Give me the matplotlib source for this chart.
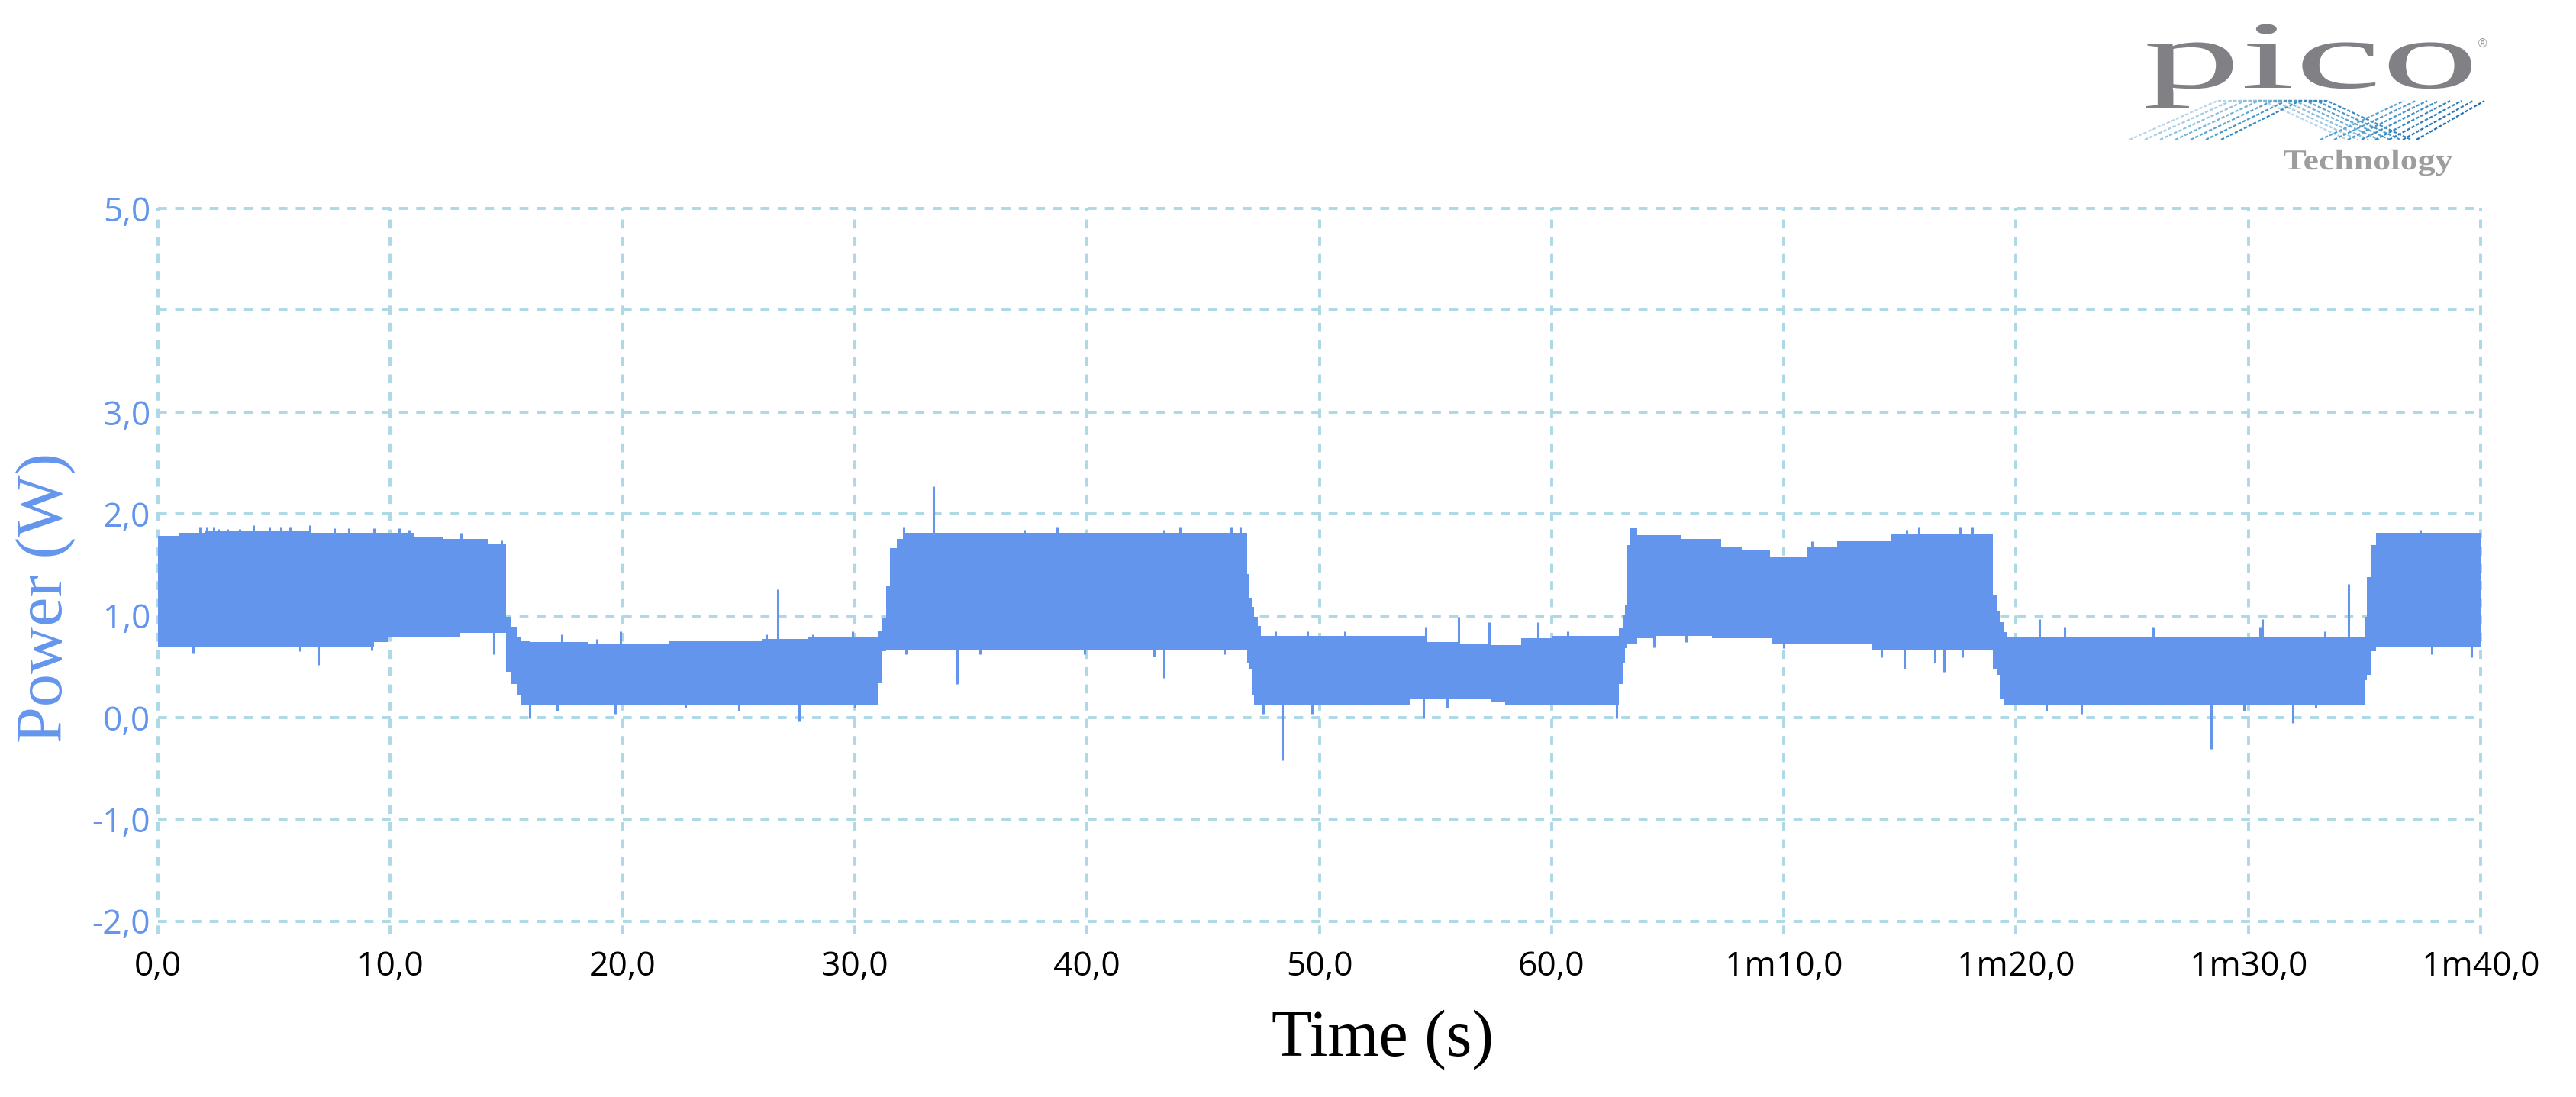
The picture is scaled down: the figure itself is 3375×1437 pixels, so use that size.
import matplotlib.pyplot as plt
import numpy as np
from matplotlib.textpath import TextPath
from matplotlib.patches import PathPatch
from matplotlib.font_manager import FontProperties
from matplotlib.transforms import Affine2D
from matplotlib.lines import Line2D

# band envelope of the power trace (step knots, seconds / watts)
time_s = [0.0, 0.9, 2.0, 6.5, 9.3, 9.9, 11.0, 12.3, 13.0, 14.2,
          15.0, 15.2, 15.45, 15.65, 16.0, 18.5, 20.0, 22.0, 26.0, 28.0,
          31.0, 31.2, 31.35, 31.5, 31.8, 32.1, 46.9, 47.0, 47.1, 47.2,
          47.35, 47.5, 53.9, 54.6, 56.0, 57.4, 58.0, 58.7, 60.0, 62.9,
          63.05, 63.15, 63.25, 63.4, 63.7, 64.5, 65.6, 66.9, 67.3, 68.2,
          69.4, 69.5, 71.0, 72.3, 73.8, 74.6, 79.0, 79.15, 79.3, 79.45,
          79.6, 95.0, 95.1, 95.3, 95.5, 100.0]
upper_w = [1.78, 1.81, 1.83, 1.81, 1.81, 1.81, 1.77, 1.75, 1.75, 1.70,
           0.99, 0.89, 0.79, 0.75, 0.74, 0.73, 0.72, 0.75, 0.77, 0.79,
           0.85, 0.98, 1.29, 1.66, 1.75, 1.81, 1.41, 1.18, 1.09, 0.99,
           0.90, 0.80, 0.80, 0.74, 0.73, 0.71, 0.71, 0.78, 0.80, 0.88,
           1.01, 1.11, 1.69, 1.86, 1.79, 1.79, 1.75, 1.75, 1.68, 1.64,
           1.58, 1.58, 1.67, 1.73, 1.73, 1.80, 1.20, 1.05, 0.94, 0.84,
           0.79, 0.99, 1.38, 1.69, 1.81, 1.81]
lower_w = [0.70, 0.70, 0.70, 0.70, 0.74, 0.79, 0.79, 0.79, 0.83, 0.83,
           0.45, 0.33, 0.22, 0.12, 0.13, 0.13, 0.13, 0.13, 0.13, 0.13,
           0.34, 0.65, 0.66, 0.66, 0.66, 0.67, 0.54, 0.48, 0.22, 0.13,
           0.13, 0.13, 0.19, 0.19, 0.19, 0.15, 0.13, 0.13, 0.13, 0.33,
           0.54, 0.68, 0.73, 0.73, 0.78, 0.80, 0.80, 0.78, 0.78, 0.78,
           0.78, 0.72, 0.72, 0.72, 0.67, 0.67, 0.48, 0.42, 0.19, 0.13,
           0.13, 0.37, 0.42, 0.65, 0.70, 0.70]

# upward glitches / teeth on the trace
peak_t = [1.8, 2.1, 2.4, 2.6, 3.0, 3.5, 4.1, 4.8, 5.3, 5.7, 6.55, 7.6, 8.2,
          9.3, 10.4, 10.8, 13.05, 14.8, 17.4, 18.9, 19.9, 26.2, 26.7, 28.2,
          29.9, 32.1, 33.4, 37.3, 38.7, 43.3, 44.0, 46.2, 46.6, 48.1, 49.5,
          51.1, 54.6, 56.0, 57.3, 59.4, 60.7, 71.2, 75.3, 75.8, 77.6, 78.1,
          81.0, 82.1, 85.9, 90.5, 90.6, 93.3, 94.3, 97.4]
peak_w = [1.87, 1.87, 1.87, 1.85, 1.85, 1.85, 1.89, 1.87, 1.87, 1.87, 1.89,
          1.86, 1.86, 1.86, 1.86, 1.84, 1.81, 1.74, 0.82, 0.77, 0.85, 0.82,
          1.26, 0.82, 0.85, 1.87, 2.27, 1.84, 1.87, 1.84, 1.87, 1.87, 1.87,
          0.85, 0.85, 0.85, 0.89, 0.99, 0.94, 0.94, 0.85, 1.73, 1.84, 1.87,
          1.87, 1.87, 0.97, 0.89, 0.89, 0.89, 0.97, 0.85, 1.31, 1.84]

# downward glitches / teeth
dip_t = [1.5, 6.1, 6.9, 9.2, 14.45, 16.0, 17.2, 19.7, 22.7, 25.0, 27.6,
         30.0, 32.2, 34.4, 35.4, 39.9, 42.9, 43.3, 45.9, 47.6, 48.4, 49.7,
         54.5, 55.5, 62.8, 64.4, 65.8, 70.0, 74.2, 75.2, 76.5, 76.9, 77.7,
         81.3, 82.8, 88.4, 89.8, 91.9, 92.9, 97.9, 99.6]
dip_w = [0.63, 0.65, 0.52, 0.66, 0.62, -0.01, 0.07, 0.04, 0.10, 0.07, -0.04,
         0.10, 0.62, 0.33, 0.62, 0.62, 0.60, 0.39, 0.62, 0.04, -0.42, 0.04,
         -0.01, 0.10, -0.01, 0.69, 0.74, 0.68, 0.59, 0.48, 0.54, 0.45, 0.59,
         0.07, 0.04, -0.31, 0.07, -0.05, 0.10, 0.62, 0.59]

x_ticks = [0, 10, 20, 30, 40, 50, 60, 70, 80, 90, 100]
x_labels = ['0,0', '10,0', '20,0', '30,0', '40,0', '50,0', '60,0',
            '1m10,0', '1m20,0', '1m30,0', '1m40,0']
y_ticks = [-2, -1, 0, 1, 2, 3, 4, 5]
y_labels = ['-2,0', '-1,0', '0,0', '1,0', '2,0', '3,0', '', '5,0']

trace_col = '#6495ED'
grid_col = '#ADD8E6'

plt.rcParams['font.family'] = ['Open Sans', 'DejaVu Sans']

W, H, dpi = 3375, 1437, 100
fig = plt.figure(figsize=(W / dpi, H / dpi), dpi=dpi)
ax = fig.add_axes([207 / W, (H - 1224) / H, (3250 - 207) / W, (1224 - 273) / H])

t = np.array(time_s)
up = np.array(upper_w)
lo = np.array(lower_w)
ax.fill_between(t, lo, up, step='post', color=trace_col, lw=0, zorder=3)


def band_mid(ts):
    idx = np.searchsorted(t, ts, side='right') - 1
    return (up[idx] + lo[idx]) / 2


ax.vlines(peak_t, band_mid(np.array(peak_t)), peak_w, color=trace_col, lw=2.2, zorder=3)
ax.vlines(dip_t, band_mid(np.array(dip_t)), dip_w, color=trace_col, lw=2.2, zorder=3)

ax.set_xlim(0, 100)
ax.set_ylim(-2.13, 5.0)
ax.set_xticks(x_ticks)
ax.set_xticklabels(x_labels, fontsize=32, color='black')
ax.set_yticks(y_ticks)
ax.set_yticklabels(y_labels, fontsize=32, color=trace_col)
ax.tick_params(axis='x', length=0, pad=15)
ax.tick_params(axis='y', length=0, pad=7)
for s in ax.spines.values():
    s.set_visible(False)
ax.set_axisbelow(True)
ax.grid(True, color=grid_col, lw=2.8, ls=(0, (3, 2.8)))
for gl in ax.get_xgridlines() + ax.get_ygridlines():
    gl.set_clip_on(False)

fig.text(1812 / W, 1 - 1382 / H, 'Time (s)', fontsize=62, family='Liberation Serif',
         ha='center', va='baseline', color='black')
fig.text(60 / W, 1 - 783 / H, 'Power (W)', fontsize=62, family='Liberation Serif',
         rotation=90, ha='center', va='center', color=trace_col)

# pico logo (stretched serif text + wave lines)
px = Affine2D().scale(1 / dpi) + fig.dpi_scale_trans
tp = TextPath((0, 0), 'pico', size=1, prop=FontProperties(family='Liberation Serif'))
bb = tp.get_extents()
tr = Affine2D().translate(-bb.x0, 0).scale(426 / bb.width, 58 / 0.459).translate(2812, H - 115) + px
fig.add_artist(PathPatch(tp, transform=tr, color='#808085', lw=0))
tp2 = TextPath((0, 0), 'Technology', size=1,
               prop=FontProperties(family='Liberation Serif', weight='bold'))
bb2 = tp2.get_extents()
tr2 = Affine2D().translate(-bb2.x0, 0).scale(221 / bb2.width, 25 / 0.662).translate(2992, H - 222) + px
fig.add_artist(PathPatch(tp2, transform=tr2, color='#9d9d9d', lw=0))
fig.text(3245 / W, 1 - 62 / H, '®', fontsize=11, color='#a0a0a0', family='DejaVu Sans')

for i in range(7):
    xs = [2790 + i * 20, 2905 + i * 18, 2965 + i * 14, 3075 + i * 14]
    ys = [H - 183, H - 132, H - 132, H - 183]
    fig.add_artist(Line2D(xs, ys, transform=px, color=plt.cm.Blues(0.3 + i * 0.06),
                          lw=1.6, ls=(0, (2, 1))))
for i in range(8):
    xs = [3040 + i * 18, 3150 + i * 15]
    ys = [H - 183, H - 132]
    fig.add_artist(Line2D(xs, ys, transform=px, color=plt.cm.Blues(0.55 + i * 0.03),
                          lw=1.6, ls=(0, (2, 1))))

fig.savefig('out.png', dpi=dpi)
